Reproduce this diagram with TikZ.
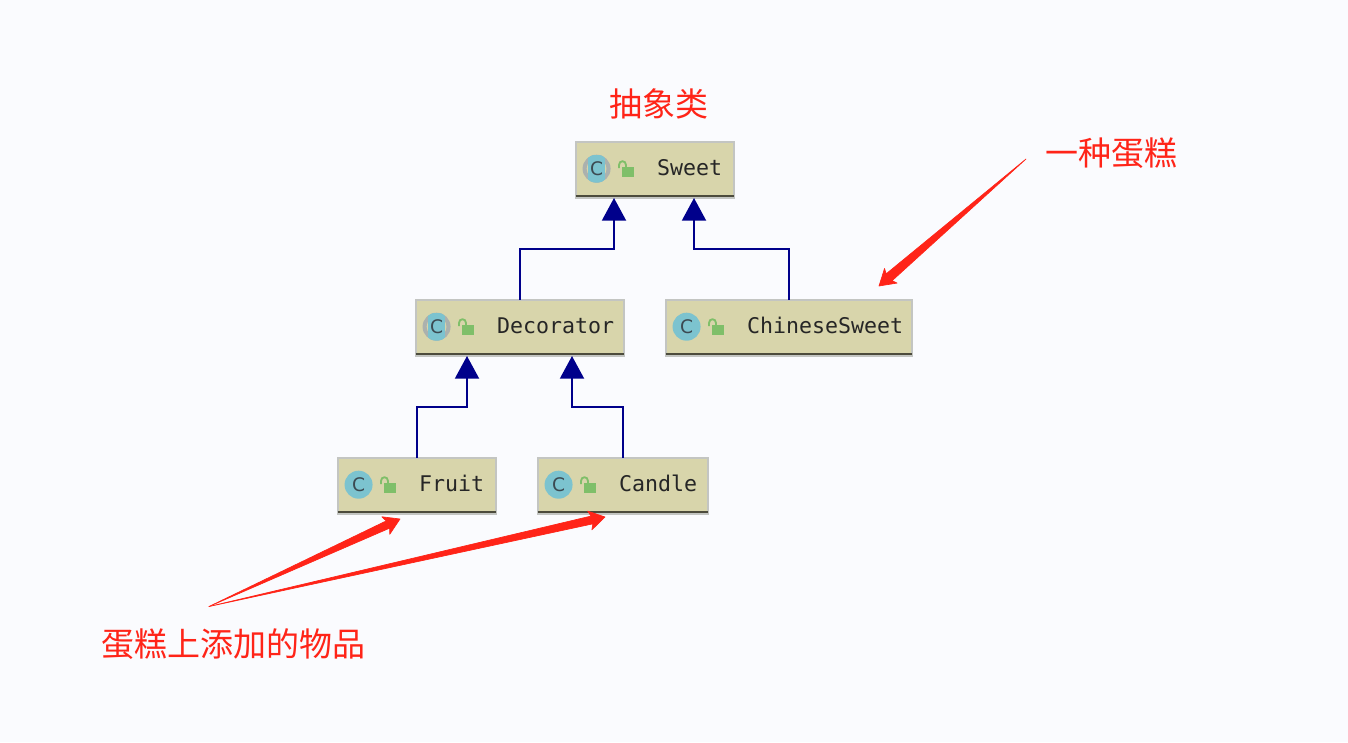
\documentclass[tikz,border=0pt]{standalone}
\usepackage{fontspec}
\setmonofont{DejaVu Sans Mono}
\newfontfamily\cjk{Noto Sans CJK SC}
\newfontfamily\iconfont{DejaVu Sans}
\usetikzlibrary{arrows.meta,calc}
\definecolor{pagebg}{HTML}{FAFBFE}
\definecolor{boxfill}{HTML}{D8D5AB}
\definecolor{boxline}{HTML}{C3C5C2}
\definecolor{iconteal}{HTML}{7CC3CF}
\definecolor{icongray}{HTML}{ABB1AE}
\definecolor{icontext}{HTML}{3C4A52}
\definecolor{lockgreen}{HTML}{7FBF69}
\definecolor{linkblue}{HTML}{00008B}
\definecolor{notered}{HTML}{FF2418}
\tikzset{
    classbox/.style={draw=boxline,line width=1.5pt,fill=boxfill,minimum height=42pt,inner sep=0pt,outer sep=0pt},
    classrule/.style={draw=black!65!boxfill,line width=1.5pt},
    classname/.style={anchor=base west,inner sep=0pt,font=\ttfamily\fontsize{16.2}{16}\selectfont,text=black!85,xshift=61pt,yshift=-4.6pt},
    classicon/.style={circle,fill=iconteal,minimum size=21pt,inner sep=0pt,font=\iconfont\fontsize{14}{14}\selectfont,text=icontext,xshift=15.8pt,yshift=0.6pt},
    abstracticon/.style={classicon,fill=icongray,path picture={
        \fill[boxfill] (path picture bounding box.center) circle (7.4pt);
        \fill[iconteal] ([xshift=-6.4pt]path picture bounding box.south) rectangle ([xshift=6.4pt]path picture bounding box.north);}},
    inherit/.style={draw=linkblue,line width=1.5pt,-{Triangle[length=17pt,width=18pt]}},
    notetext/.style={inner sep=0pt,text=notered,font=\cjk\fontsize{24.75}{25}\selectfont},
    notearrow/.style={fill=notered,draw=notered,line width=0.5pt,line join=round},
    lockicon/.pic={
        \fill[lockgreen] (46,-2.5) rectangle (58,7.5);
        \draw[lockgreen,line width=1.4pt] (43.5,-1.5) -- (43.5,-4.5) .. controls (43.5,-9.5) and (50.5,-9.5) .. (50.5,-4.5) -- (50.5,-2.5);
    }
}
\newcommand{\notemark}[3]{
    \coordinate (neck) at ($(#2)!10pt!(#1)$);
    \coordinate (barb) at ($(#2)!11.7pt!(#1)$);
    \path[notearrow] (#1) -- ($(neck)!#3!90:(#2)$) -- ($(barb)!7.2pt!90:(#2)$) -- (#2) -- ($(barb)!7.2pt!-90:(#2)$) -- ($(neck)!#3!-90:(#2)$) -- cycle;
}

\begin{document}
\begin{tikzpicture}[x=0.75pt,y=-0.75pt]
    \fill[pagebg] (0,0) rectangle (1348,742);
    \useasboundingbox (0,0) rectangle (1348,742);

    \node (sweet)     [classbox,minimum width=118.5pt] at (654.5,169.5) {};
    \node (decorator) [classbox,minimum width=156pt]   at (519.5,327.5) {};
    \node (chinese)   [classbox,minimum width=184.5pt] at (788.5,327.5) {};
    \node (fruit)     [classbox,minimum width=118.5pt] at (416.5,485.5) {};
    \node (candle)    [classbox,minimum width=127.5pt] at (622.5,485.5) {};

    \draw[classrule] ([yshift=1.1pt]sweet.south west)     -- ([yshift=1.1pt]sweet.south east);
    \draw[classrule] ([yshift=1.1pt]decorator.south west) -- ([yshift=1.1pt]decorator.south east);
    \draw[classrule] ([yshift=1.1pt]chinese.south west)   -- ([yshift=1.1pt]chinese.south east);
    \draw[classrule] ([yshift=1.1pt]fruit.south west)     -- ([yshift=1.1pt]fruit.south east);
    \draw[classrule] ([yshift=1.1pt]candle.south west)    -- ([yshift=1.1pt]candle.south east);

    \node (sweet icon)     [abstracticon] at (sweet.west)     {C};
    \node (decorator icon) [abstracticon] at (decorator.west) {C};
    \node (chinese icon)   [classicon]    at (chinese.west)   {C};
    \node (fruit icon)     [classicon]    at (fruit.west)     {C};
    \node (candle icon)    [classicon]    at (candle.west)    {C};

    \pic at (sweet.west)     {lockicon};
    \pic at (decorator.west) {lockicon};
    \pic at (chinese.west)   {lockicon};
    \pic at (fruit.west)     {lockicon};
    \pic at (candle.west)    {lockicon};

    \node (sweet name)     [classname] at (sweet.west)     {Sweet};
    \node (decorator name) [classname] at (decorator.west) {Decorator};
    \node (chinese name)   [classname] at (chinese.west)   {ChineseSweet};
    \node (fruit name)     [classname] at (fruit.west)     {Fruit};
    \node (candle name)    [classname] at (candle.west)    {Candle};

    \coordinate (sweet left)      at (614,198);
    \coordinate (sweet right)     at (694,198);
    \coordinate (decorator left)  at (467,356);
    \coordinate (decorator right) at (572,356);

    \draw[inherit] (decorator.north) -- ++(0,-51) -| (sweet left);
    \draw[inherit] (chinese.north)   -- ++(0,-51) -| (sweet right);
    \draw[inherit] (fruit.north)     -- ++(0,-51) -| (decorator left);
    \draw[inherit] (candle.north)    -- ++(0,-51) -| (decorator right);

    \node (abstract note) [notetext] at (658.5,103.5) {抽象类};
    \node (kind note)     [notetext] at (1111,153.5)  {一种蛋糕};
    \node (topping note)  [notetext] at (233,644.5)   {蛋糕上添加的物品};

    \coordinate (kind tail)    at (1026,159);
    \coordinate (kind tip)     at (879,286);
    \coordinate (topping tail) at (209,606.5);
    \coordinate (fruit tip)    at (400,519);
    \coordinate (candle tip)   at (605,517);

    \notemark{kind tail}{kind tip}{3.4pt}
    \notemark{topping tail}{fruit tip}{3pt}
    \notemark{topping tail}{candle tip}{3pt}
\end{tikzpicture}
\end{document}
